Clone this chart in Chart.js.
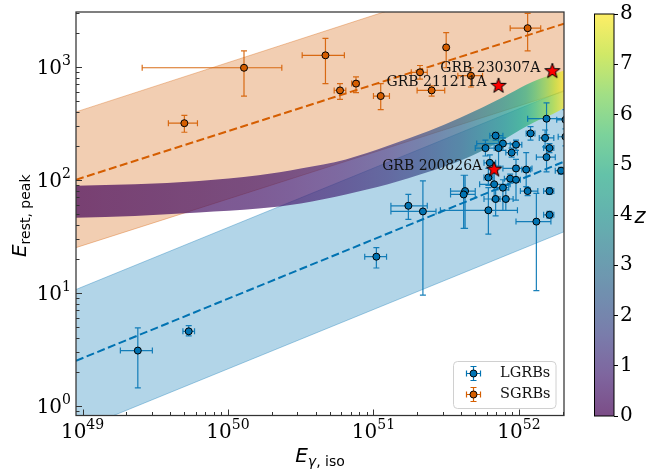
<!DOCTYPE html>
<html>
<head>
<meta charset="utf-8">
<script src="https://cdn.jsdelivr.net/npm/chart.js@4.4.0/dist/chart.umd.min.js"></script>
<style>
html, body { margin: 0; padding: 0; background: #fff; }
#wrap { position: relative; width: 649px; height: 473px; }
#main { position: absolute; left: 0; top: 0; }
#cbar { position: absolute; left: 560px; top: 0; }
</style>
</head>
<body>
<div id="wrap">
  <canvas id="main" width="649" height="473"></canvas>
  <canvas id="cbar" width="89" height="473"></canvas>
</div>
<script>
// all values are log10
// long GRBs
var lgrbLogE    = [49.38, 49.73, 51.02, 51.24, 51.34, 51.79, 51.63, 51.62, 52.12, 52.19, 52.08, 51.84, 52.18, 51.89, 51.98, 51.77, 51.86, 52.21, 51.95, 52.19, 51.80, 51.98, 52.05, 52.29, 51.79, 51.94, 51.98, 51.83, 51.89, 52.06, 52.21, 51.84, 51.91, 52.21, 52.32, 52.32];
var lgrbLogELo  = [49.26, 49.69, 50.94, 51.12, 51.12, 51.46, 51.53, 51.53, 51.98, 52.06, 52.05, 51.80, 52.14, 51.71, 51.94, 51.70, 51.83, 52.17, 51.91, 52.12, 51.76, 51.89, 52.02, 52.25, 51.76, 51.90, 51.95, 51.73, 51.83, 52.01, 52.17, 51.76, 51.87, 52.17, 52.27, 52.26];
var lgrbLogEHi  = [49.48, 49.77, 51.09, 51.37, 51.43, 51.99, 51.70, 51.70, 52.22, 52.31, 52.11, 51.89, 52.24, 51.97, 52.02, 51.84, 51.89, 52.24, 51.99, 52.25, 51.84, 52.09, 52.08, 52.32, 51.82, 51.98, 52.01, 51.94, 51.93, 52.13, 52.24, 51.92, 51.96, 52.24, 52.37, 52.38];
var lgrbLogEp   = [0.49, 0.66, 1.32, 1.77, 1.72, 1.73, 1.90, 1.87, 1.63, 2.54, 2.41, 2.39, 2.37, 2.32, 2.31, 2.28, 2.28, 2.28, 2.24, 2.20, 2.15, 2.10, 2.09, 2.08, 2.02, 2.01, 2.00, 1.96, 1.93, 1.90, 1.90, 1.83, 1.83, 1.69, 2.38, 2.53];
var lgrbLogEpLo = [0.16, 0.62, 1.22, 1.65, 0.98, 1.52, 1.57, 1.57, 1.02, 2.40, 2.35, 2.35, 2.29, 2.26, 2.26, 2.21, 2.12, 2.24, 2.20, 2.07, 2.10, 2.00, 1.94, 2.05, 1.95, 1.97, 1.82, 1.82, 1.73, 1.86, 1.87, 1.68, 1.73, 1.66, 2.30, 2.45];
var lgrbLogEpHi = [0.69, 0.71, 1.40, 1.87, 1.99, 1.93, 2.04, 2.04, 1.88, 2.68, 2.47, 2.42, 2.44, 2.37, 2.35, 2.35, 2.37, 2.32, 2.28, 2.28, 2.22, 2.18, 2.24, 2.11, 2.10, 2.05, 2.12, 2.06, 2.00, 1.93, 1.93, 1.91, 1.91, 1.72, 2.45, 2.62];

// short GRBs
var sgrbLogE    = [49.70, 50.11, 50.67, 50.77, 50.88, 51.05, 51.32, 51.40, 51.50, 51.67, 52.06];
var sgrbLogELo  = [49.59, 49.41, 50.51, 50.73, 50.85, 51.00, 51.26, 51.30, 51.49, 51.58, 51.94];
var sgrbLogEHi  = [49.79, 50.37, 50.80, 50.81, 50.90, 51.11, 51.37, 51.49, 51.51, 51.75, 52.15];
var sgrbLogEp   = [2.50, 2.99, 3.10, 2.79, 2.85, 2.74, 2.95, 2.79, 3.17, 2.92, 3.34];
var sgrbLogEpLo = [2.42, 2.74, 2.85, 2.71, 2.77, 2.62, 2.89, 2.74, 2.99, 2.82, 3.14];
var sgrbLogEpHi = [2.57, 3.14, 3.25, 2.85, 2.91, 2.85, 3.01, 2.83, 3.30, 2.99, 3.47];

// highlighted bursts
var starNames = ['GRB 200826A', 'GRB 211211A', 'GRB 230307A'];
var starLogE  = [51.83, 51.86, 52.23];
var starLogEp = [2.09, 2.83, 2.96];

// fit lines and scatter bands, at the left and right edges
var fitLogE     = [48.955, 52.31];
var sgrbFit     = [2.00, 3.38];
var sgrbBandHi  = [2.60, 4.00];
var sgrbBandLo  = [1.40, 2.78];
var lgrbFit     = [0.40, 2.16];
var lgrbBandHi  = [1.03, 2.79];
var lgrbBandLo  = [-0.22, 1.54];

// redshift track band
var bandLogE = [48.955, 49.36, 49.80, 50.21, 50.50, 50.81, 51.10, 51.38, 51.60, 51.89, 52.05, 52.14, 52.23, 52.31];
var bandZ    = [0.07, 0.2, 0.35, 0.5, 0.7, 1.0, 1.4, 2.0, 2.7, 4.0, 5.0, 6.0, 7.0, 8.0];
var bandHi   = [1.947, 1.96, 1.99, 2.04, 2.10, 2.18, 2.30, 2.43, 2.55, 2.73, 2.84, 2.89, 2.93, 2.965];
var bandLo   = [1.665, 1.68, 1.71, 1.745, 1.79, 1.87, 1.96, 2.07, 2.17, 2.35, 2.47, 2.53, 2.58, 2.635];

var xTickExp = [49, 50, 51, 52];
var yTickExp = [0, 1, 2, 3];
var zTicks = [0, 1, 2, 3, 4, 5, 6, 7, 8];

var BLUE = '#0173b2', ORANGE = '#d55e00';
var SERIF = '"DejaVu Serif", serif', SANS = '"DejaVu Sans", sans-serif';

var p10 = function(v) { return Math.pow(10, v); };

function errPoints(lx, lxl, lxh, ly, lyl, lyh) {
    return lx.map(function(v, i) {
        return {x: p10(v), y: p10(ly[i]), xl: p10(lxl[i]), xh: p10(lxh[i]), yl: p10(lyl[i]), yh: p10(lyh[i])};
    });
}
function linePoints(lx, ly) {
    return lx.map(function(v, i) { return {x: p10(v), y: p10(ly[i])}; });
}

var VIRIDIS = [[68,1,84],[72,36,117],[65,68,135],[53,95,141],[42,120,142],[33,145,140],[34,168,132],[68,191,112],[122,209,81],[189,223,38],[253,231,37]];
function viridis(t, a) {
    t = Math.max(0, Math.min(1, t));
    var f = t * 10, i = Math.min(9, Math.floor(f)), u = f - i;
    var c0 = VIRIDIS[i], c1 = VIRIDIS[i + 1];
    var c = c0.map(function(v, k) { return Math.round(v + (c1[k] - v) * u); });
    return 'rgba(' + c[0] + ',' + c[1] + ',' + c[2] + ',' + a + ')';
}

function bandFill(context) {
    var chart = context.chart, xs = chart.scales.x;
    if (!chart.chartArea || !xs) return 'rgba(0,0,0,0)';
    var w = xs.right - xs.left;
    var g = chart.ctx.createLinearGradient(xs.left, 0, xs.right, 0);
    for (var i = 0; i < bandLogE.length; i++) {
        var steps = i < bandLogE.length - 1 ? 4 : 1;
        for (var s = 0; s < steps; s++) {
            var lx = bandLogE[i], z = bandZ[i];
            if (s > 0) {
                lx = bandLogE[i] + (bandLogE[i + 1] - bandLogE[i]) * s / steps;
                z = bandZ[i] + (bandZ[i + 1] - bandZ[i]) * s / steps;
            }
            var px = xs.getPixelForValue(p10(lx));
            g.addColorStop(Math.max(0, Math.min(1, (px - xs.left) / w)), viridis(z / 8, 0.7));
        }
    }
    return g;
}

function starImage(r) {
    var c = document.createElement('canvas');
    var s = Math.ceil(r * 2 + 4);
    c.width = c.height = s;
    var g = c.getContext('2d');
    g.beginPath();
    for (var k = 0; k < 10; k++) {
        var rr = k % 2 ? r * 0.4 : r;
        var a = -Math.PI / 2 + k * Math.PI / 5;
        var px = s / 2 + rr * Math.cos(a), py = s / 2 + rr * Math.sin(a);
        if (k) g.lineTo(px, py); else g.moveTo(px, py);
    }
    g.closePath();
    g.fillStyle = '#ff0000';
    g.fill();
    g.lineWidth = 1;
    g.strokeStyle = '#000';
    g.stroke();
    return c;
}

function drawErrBar(ctx, px, py, x0, x1, y0, y1, cap) {
    ctx.moveTo(x0, py); ctx.lineTo(x1, py);
    ctx.moveTo(px, y0); ctx.lineTo(px, y1);
    [x0, x1].forEach(function(cx) { ctx.moveTo(cx, py - cap); ctx.lineTo(cx, py + cap); });
    [y0, y1].forEach(function(cy) { ctx.moveTo(px - cap, cy); ctx.lineTo(px + cap, cy); });
}

var errorBars = {
    id: 'errorBars',
    beforeDatasetDraw: function(chart, args) {
        var ds = chart.data.datasets[args.index];
        if (!ds.errColor) return;
        var ctx = chart.ctx, a = chart.chartArea, x = chart.scales.x, y = chart.scales.y;
        ctx.save();
        ctx.beginPath();
        ctx.rect(a.left, a.top, a.right - a.left, a.bottom - a.top);
        ctx.clip();
        ctx.strokeStyle = ds.errColor;
        ctx.lineWidth = 1.2;
        ctx.beginPath();
        ds.data.forEach(function(p) {
            drawErrBar(ctx, x.getPixelForValue(p.x), y.getPixelForValue(p.y),
                x.getPixelForValue(p.xl), x.getPixelForValue(p.xh),
                y.getPixelForValue(p.yl), y.getPixelForValue(p.yh), 3);
        });
        ctx.stroke();
        ctx.restore();
    }
};

function drawPow(ctx, exp, x, y, align) {
    ctx.font = '20px ' + SERIF;
    var w1 = ctx.measureText('10').width;
    ctx.font = '14px ' + SERIF;
    var w2 = ctx.measureText(exp).width;
    var x0 = align === 'center' ? x - (w1 + w2) / 2 : x - (w1 + w2);
    ctx.textAlign = 'left';
    ctx.textBaseline = 'alphabetic';
    ctx.font = '20px ' + SERIF;
    ctx.fillText('10', x0, y);
    ctx.font = '14px ' + SERIF;
    ctx.fillText(exp, x0 + w1, y - 9);
}

// pieces: [text, font, baseline shift]
function drawMath(ctx, pieces) {
    var x = 0;
    pieces.forEach(function(p) {
        ctx.font = p[1];
        ctx.fillText(p[0], x, p[2]);
        x += ctx.measureText(p[0]).width;
    });
}
function mathWidth(ctx, pieces) {
    var w = 0;
    pieces.forEach(function(p) { ctx.font = p[1]; w += ctx.measureText(p[0]).width; });
    return w;
}

var axesDecor = {
    id: 'axesDecor',
    afterDraw: function(chart) {
        var ctx = chart.ctx, a = chart.chartArea, xs = chart.scales.x, ys = chart.scales.y;
        ctx.save();
        ctx.fillStyle = '#000';
        ctx.strokeStyle = '#333';

        // inward ticks
        ctx.lineWidth = 1;
        ctx.beginPath();
        for (var d = 48; d <= 52; d++) {
            for (var m = 1; m <= 9; m++) {
                var v = m * p10(d);
                if (v < xs.min || v > xs.max) continue;
                var px = Math.round(xs.getPixelForValue(v)) + 0.5;
                var len = m === 1 ? 6 : 3.5;
                ctx.moveTo(px, a.bottom); ctx.lineTo(px, a.bottom - len);
            }
        }
        for (d = -1; d <= 3; d++) {
            for (m = 1; m <= 9; m++) {
                v = m * p10(d);
                if (v < ys.min || v > ys.max) continue;
                var py = Math.round(ys.getPixelForValue(v)) + 0.5;
                len = m === 1 ? 6 : 3.5;
                ctx.moveTo(a.left, py); ctx.lineTo(a.left + len, py);
            }
        }
        ctx.stroke();

        // frame
        ctx.lineWidth = 1.25;
        ctx.strokeRect(a.left, a.top, a.right - a.left, a.bottom - a.top);

        // tick labels
        xTickExp.forEach(function(e) {
            drawPow(ctx, String(e), xs.getPixelForValue(p10(e)), a.bottom + 22, 'center');
        });
        yTickExp.forEach(function(e) {
            drawPow(ctx, String(e), a.left - 5, ys.getPixelForValue(p10(e)) + 7.5, 'right');
        });

        // axis titles
        ctx.textAlign = 'left';
        ctx.textBaseline = 'alphabetic';
        var xt = [['E', 'italic 20px ' + SANS, 0], ['\u03b3', 'italic 14px ' + SANS, 4], [', iso', '14px ' + SANS, 4]];
        var w = mathWidth(ctx, xt);
        ctx.save();
        ctx.translate((a.left + a.right) / 2 - w / 2, 462);
        drawMath(ctx, xt);
        ctx.restore();

        var yt = [['E', 'italic 20px ' + SANS, 0], ['rest, peak', '14px ' + SANS, 4]];
        w = mathWidth(ctx, yt);
        ctx.save();
        ctx.translate(26, (a.top + a.bottom) / 2 + w / 2 + 2);
        ctx.rotate(-Math.PI / 2);
        drawMath(ctx, yt);
        ctx.restore();

        // star labels
        ctx.font = '14px ' + SERIF;
        ctx.fillStyle = '#111';
        ctx.textAlign = 'right';
        starNames.forEach(function(n, i) {
            ctx.fillText(n, xs.getPixelForValue(p10(starLogE[i])) - 12, ys.getPixelForValue(p10(starLogEp[i])) + 0.5);
        });

        // legend
        var lx = 453.5, ly = 361.5, lw = 102.5, lh = 47;
        ctx.beginPath();
        ctx.roundRect(lx, ly, lw, lh, 4);
        ctx.fillStyle = 'rgba(255,255,255,0.8)';
        ctx.fill();
        ctx.strokeStyle = '#d0d0d0';
        ctx.lineWidth = 1;
        ctx.stroke();
        [['LGRBs', BLUE, 373.5], ['SGRBs', ORANGE, 394.5]].forEach(function(it) {
            var mx = 473.5, my = it[2];
            ctx.strokeStyle = it[1];
            ctx.lineWidth = 1.2;
            ctx.beginPath();
            drawErrBar(ctx, mx, my, mx - 7, mx + 7, my + 7, my - 7, 3);
            ctx.stroke();
            ctx.beginPath();
            ctx.arc(mx, my, 3.5, 0, Math.PI * 2);
            ctx.fillStyle = it[1];
            ctx.fill();
            ctx.strokeStyle = '#000';
            ctx.lineWidth = 1;
            ctx.stroke();
            ctx.fillStyle = '#111';
            ctx.font = '14.5px ' + SERIF;
            ctx.textAlign = 'left';
            ctx.textBaseline = 'middle';
            ctx.fillText(it[0], 500, my);
        });
        ctx.restore();
    }
};

function bandEdge(data, order, fill, bg, border) {
    return {
        type: 'line', data: data, order: order,
        pointRadius: 0, borderWidth: border ? 1 : 0, borderColor: border || 'rgba(0,0,0,0)',
        fill: fill, backgroundColor: bg || 'rgba(0,0,0,0)'
    };
}

var starImg = starImage(8);

new Chart(document.getElementById('main'), {
    type: 'scatter',
    data: {
        datasets: [
            bandEdge(linePoints(fitLogE, sgrbBandLo), 30, false, null, 'rgba(213,94,0,0.35)'),
            bandEdge(linePoints(fitLogE, sgrbBandHi), 29, '-1', 'rgba(213,94,0,0.3)', 'rgba(213,94,0,0.35)'),
            bandEdge(linePoints(fitLogE, lgrbBandLo), 28, false, null, 'rgba(1,115,178,0.35)'),
            bandEdge(linePoints(fitLogE, lgrbBandHi), 27, '-1', 'rgba(1,115,178,0.3)', 'rgba(1,115,178,0.35)'),
            Object.assign(bandEdge(linePoints(bandLogE, bandLo), 26, false, null, null), {cubicInterpolationMode: 'monotone'}),
            Object.assign(bandEdge(linePoints(bandLogE, bandHi), 25, '-1', bandFill, null), {cubicInterpolationMode: 'monotone'}),
            {
                type: 'line', data: linePoints(fitLogE, sgrbFit), order: 20,
                borderColor: ORANGE, borderWidth: 2, borderDash: [8, 3.5], pointRadius: 0, fill: false
            },
            {
                type: 'line', data: linePoints(fitLogE, lgrbFit), order: 19,
                borderColor: BLUE, borderWidth: 2, borderDash: [8, 3.5], pointRadius: 0, fill: false
            },
            {
                label: 'LGRBs', data: errPoints(lgrbLogE, lgrbLogELo, lgrbLogEHi, lgrbLogEp, lgrbLogEpLo, lgrbLogEpHi),
                order: 6, errColor: 'rgba(1,115,178,0.9)',
                pointRadius: 3.5, backgroundColor: BLUE, borderColor: '#000', borderWidth: 1
            },
            {
                label: 'SGRBs', data: errPoints(sgrbLogE, sgrbLogELo, sgrbLogEHi, sgrbLogEp, sgrbLogEpLo, sgrbLogEpHi),
                order: 5, errColor: 'rgba(213,94,0,0.9)',
                pointRadius: 3.5, backgroundColor: ORANGE, borderColor: '#000', borderWidth: 1
            },
            {
                label: 'stars', data: linePoints(starLogE, starLogEp), order: 1,
                pointStyle: starImg, pointRadius: 8
            }
        ]
    },
    options: {
        responsive: false,
        animation: false,
        events: [],
        layout: {padding: {left: 76, right: 85, top: 12, bottom: 57.5}},
        scales: {
            x: {type: 'logarithmic', min: p10(48.955), max: p10(52.31), display: false},
            y: {type: 'logarithmic', min: p10(-0.084), max: p10(3.483), display: false}
        },
        plugins: {legend: {display: false}, tooltip: {enabled: false}}
    },
    plugins: [errorBars, axesDecor]
});

// colorbar
var cbarPlugin = {
    id: 'cbarFill',
    beforeDatasetsDraw: function(chart) {
        var ctx = chart.ctx, a = chart.chartArea, y = chart.scales.y;
        var g = ctx.createLinearGradient(0, y.getPixelForValue(0), 0, y.getPixelForValue(8));
        for (var k = 0; k <= 40; k++) g.addColorStop(k / 40, viridis(k / 40, 0.7));
        ctx.fillStyle = g;
        ctx.fillRect(a.left, a.top, a.right - a.left, a.bottom - a.top);
    },
    afterDraw: function(chart) {
        var ctx = chart.ctx, a = chart.chartArea;
        ctx.save();
        ctx.strokeStyle = '#000';
        ctx.lineWidth = 1;
        ctx.strokeRect(a.left + 0.5, a.top, a.right - a.left - 0.5, a.bottom - a.top);
        ctx.fillStyle = '#000';
        ctx.font = 'italic 21px ' + SANS;
        ctx.textAlign = 'center';
        ctx.textBaseline = 'alphabetic';
        ctx.fillText('z', 80, 223);
        ctx.restore();
    }
};

new Chart(document.getElementById('cbar'), {
    type: 'scatter',
    data: {datasets: []},
    options: {
        responsive: false,
        animation: false,
        events: [],
        layout: {padding: {left: 34, right: 0, top: 12.5, bottom: 57}},
        scales: {
            x: {display: false, min: 0, max: 1},
            y: {
                position: 'right', min: 0, max: 8,
                afterBuildTicks: function(s) { s.ticks = zTicks.map(function(v) { return {value: v}; }); },
                afterFit: function(s) { s.width = 35; },
                ticks: {color: '#000', padding: 2, font: {family: 'DejaVu Serif', size: 20}},
                grid: {drawOnChartArea: false, drawTicks: true, tickLength: 4, color: '#000'},
                border: {display: false}
            }
        },
        plugins: {legend: {display: false}, tooltip: {enabled: false}}
    },
    plugins: [cbarPlugin]
});
</script>
</body>
</html>
